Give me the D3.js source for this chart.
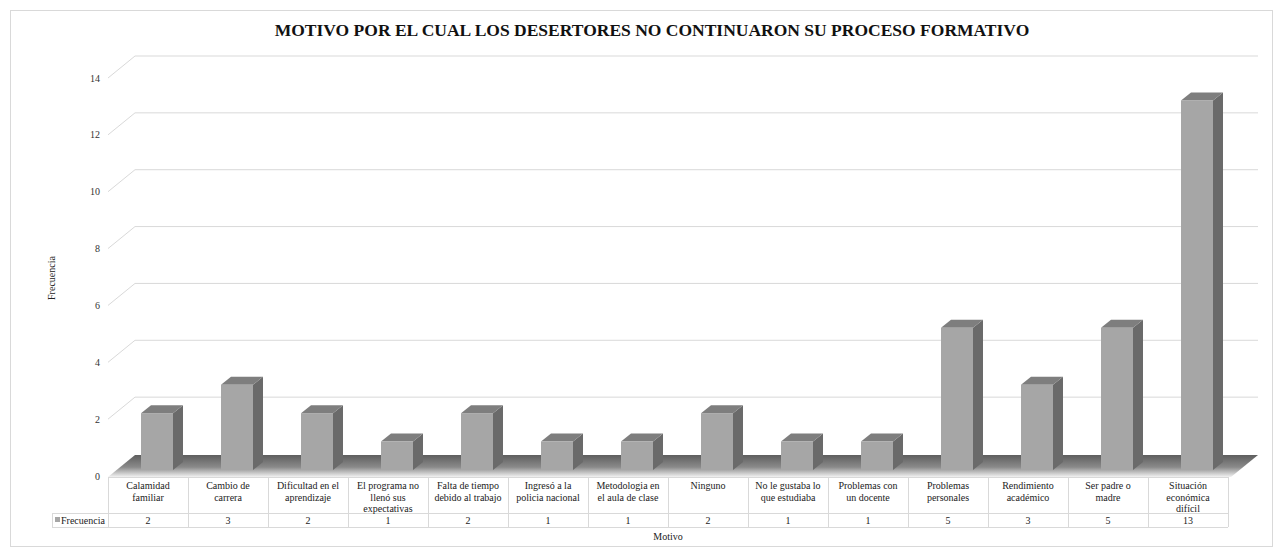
<!DOCTYPE html>
<html>
<head>
    <meta charset="utf-8" />
    <title>Motivo deserción</title>
    <script src="https://d3js.org/d3.v7.min.js"></script>
    <style>
        body { margin: 0; background: #fff; }
    </style>
</head>
<body>
<svg width="1283" height="550" font-family="'Liberation Serif', 'DejaVu Serif', serif"></svg>

<script>
    // Data
    var categories = [
        "Calamidad familiar", "Cambio de carrera", "Dificultad en el aprendizaje",
        "El programa no llenó sus expectativas", "Falta de tiempo debido al trabajo",
        "Ingresó a la policia nacional", "Metodologia en el aula de clase", "Ninguno",
        "No le gustaba lo que estudiaba", "Problemas con un docente", "Problemas personales",
        "Rendimiento académico", "Ser padre o madre", "Situación económica difícil"
    ];
    var categoryLines = [
        ["Calamidad", "familiar"], ["Cambio de", "carrera"], ["Dificultad en el", "aprendizaje"],
        ["El programa no", "llenó sus", "expectativas"], ["Falta de tiempo", "debido al trabajo"],
        ["Ingresó a la", "policia nacional"], ["Metodologia en", "el aula de clase"], ["Ninguno"],
        ["No le gustaba lo", "que estudiaba"], ["Problemas con", "un docente"], ["Problemas", "personales"],
        ["Rendimiento", "académico"], ["Ser padre o", "madre"], ["Situación", "económica", "difícil"]
    ];
    var values = [2, 3, 2, 1, 2, 1, 1, 2, 1, 1, 5, 3, 5, 13];
    var yTicks = [0, 2, 4, 6, 8, 10, 12, 14];

    var svg = d3.select("svg");

    // 3D depth of plot area and bars
    var depthX = 27, depthY = 22;
    var barDX = 9, barDY = 6, barDepthX = 10, barDepthY = 8;
    var plotLeft = 108, plotRight = 1228, plotBottom = 476, plotTop = 78;

    var x = d3.scaleBand().domain(categories).range([plotLeft, plotRight]).padding(0);
    var y = d3.scaleLinear().domain([0, 14]).range([plotBottom, plotTop]);
    var barW = x.bandwidth() * 0.4;

    // Outer border
    svg.append("rect")
        .attr("x", 10.5).attr("y", 10.5)
        .attr("width", 1262).attr("height", 536)
        .attr("fill", "none").attr("stroke", "#d9d9d9");

    // Title
    svg.append("text")
        .attr("x", 652).attr("y", 36)
        .attr("text-anchor", "middle")
        .attr("fill", "#111")
        .style("font-size", "17.5px").style("font-weight", "bold")
        .text("MOTIVO POR EL CUAL LOS DESERTORES NO CONTINUARON SU PROCESO FORMATIVO");

    // Gridlines (back wall + diagonal side wall)
    var grid = svg.append("g");
    yTicks.forEach(function (t) {
        if (t === 0) return;
        grid.append("path")
            .attr("d", "M" + plotLeft + "," + y(t) + "L" + (plotLeft + depthX) + "," + (y(t) - depthY) +
                "L" + (plotRight + depthX + 3) + "," + (y(t) - depthY))
            .attr("fill", "none").attr("stroke", "#d9d9d9").attr("stroke-width", 1);
    });

    // Floor with shadow gradient
    var defs = svg.append("defs");
    var grad = defs.append("linearGradient").attr("id", "floor")
        .attr("x1", 0).attr("y1", 0).attr("x2", 0).attr("y2", 1);
    grad.append("stop").attr("offset", "0%").attr("stop-color", "#5e5e5e");
    grad.append("stop").attr("offset", "55%").attr("stop-color", "#8a8a8a");
    grad.append("stop").attr("offset", "100%").attr("stop-color", "#f2f2f2");
    svg.append("path")
        .attr("d", "M" + plotLeft + "," + (y(0) + 1) + "L" + (plotRight + 3) + "," + (y(0) + 1) +
            "L" + (plotRight + depthX + 3) + "," + (y(0) - depthY + 1) +
            "L" + (plotLeft + depthX) + "," + (y(0) - depthY + 1) + "Z")
        .attr("fill", "url(#floor)");

    // Y tick labels
    svg.selectAll(".ytick")
        .data(yTicks)
        .enter()
        .append("text")
        .attr("class", "ytick")
        .attr("x", 100)
        .attr("y", function (d) { return y(d) + 3.5; })
        .attr("text-anchor", "end")
        .attr("fill", "#333")
        .style("font-size", "10px")
        .text(function (d) { return d; });

    // Bars
    var bars = svg.selectAll(".bar")
        .data(values)
        .enter()
        .append("g")
        .attr("class", "bar");

    function bx(d, i) { return x(categories[i]) + x.bandwidth() / 2 + barDX - barW / 2; }
    function by(v) { return y(v) - barDY; }

    // side face
    bars.append("path")
        .attr("d", function (d, i) {
            var x0 = bx(d, i) + barW, yb = by(0), yt = by(d);
            return "M" + x0 + "," + yt + "L" + (x0 + barDepthX) + "," + (yt - barDepthY) +
                "L" + (x0 + barDepthX) + "," + (yb - barDepthY) + "L" + x0 + "," + yb + "Z";
        })
        .attr("fill", "#6a6a6a");
    // top face
    bars.append("path")
        .attr("d", function (d, i) {
            var x0 = bx(d, i), yt = by(d);
            return "M" + x0 + "," + yt + "L" + (x0 + barDepthX) + "," + (yt - barDepthY) +
                "L" + (x0 + barW + barDepthX) + "," + (yt - barDepthY) + "L" + (x0 + barW) + "," + yt + "Z";
        })
        .attr("fill", "#7e7e7e");
    // front face
    bars.append("rect")
        .attr("x", bx)
        .attr("y", function (d) { return by(d); })
        .attr("width", barW)
        .attr("height", function (d) { return by(0) - by(d); })
        .attr("fill", "#a6a6a6");

    // Data table
    var tableTop = plotBottom + 1, rowSplit = 513, tableBottom = 527;
    var table = svg.append("g").attr("stroke", "#d9d9d9").attr("fill", "none");
    table.append("line").attr("x1", plotLeft).attr("x2", plotRight).attr("y1", tableTop + 0.5).attr("y2", tableTop + 0.5);
    table.append("line").attr("x1", 52).attr("x2", plotRight).attr("y1", rowSplit + 0.5).attr("y2", rowSplit + 0.5);
    table.append("line").attr("x1", 52).attr("x2", plotRight).attr("y1", tableBottom + 0.5).attr("y2", tableBottom + 0.5);
    table.append("line").attr("x1", 52.5).attr("x2", 52.5).attr("y1", rowSplit).attr("y2", tableBottom);
    categories.forEach(function (c) {
        var xx = Math.round(x(c)) + 0.5;
        table.append("line").attr("x1", xx).attr("x2", xx).attr("y1", tableTop).attr("y2", tableBottom);
    });
    table.append("line").attr("x1", plotRight + 0.5).attr("x2", plotRight + 0.5).attr("y1", tableTop).attr("y2", tableBottom);

    // Category labels
    svg.selectAll(".cat")
        .data(categoryLines)
        .enter()
        .append("text")
        .attr("class", "cat")
        .attr("text-anchor", "middle")
        .attr("fill", "#222")
        .style("font-size", "10px")
        .each(function (lines, i) {
            var t = d3.select(this);
            lines.forEach(function (l, j) {
                t.append("tspan")
                    .attr("x", x(categories[i]) + x.bandwidth() / 2)
                    .attr("y", 489 + j * 11.5)
                    .text(l);
            });
        });

    // Values row
    svg.selectAll(".val")
        .data(values)
        .enter()
        .append("text")
        .attr("class", "val")
        .attr("text-anchor", "middle")
        .attr("fill", "#222")
        .attr("x", function (d, i) { return x(categories[i]) + x.bandwidth() / 2; })
        .attr("y", 524)
        .style("font-size", "10px")
        .text(function (d) { return d; });

    // Legend key in table
    svg.append("rect").attr("x", 55).attr("y", 517).attr("width", 5).attr("height", 5).attr("fill", "#a6a6a6");
    svg.append("text").attr("x", 61).attr("y", 524).attr("fill", "#222").style("font-size", "10px").text("Frecuencia");

    // Axis titles
    svg.append("text")
        .attr("x", 668).attr("y", 540)
        .attr("text-anchor", "middle")
        .attr("fill", "#222")
        .style("font-size", "10px")
        .text("Motivo");
    svg.append("text")
        .attr("transform", "translate(55,278) rotate(-90)")
        .attr("text-anchor", "middle")
        .attr("fill", "#222")
        .style("font-size", "10px")
        .text("Frecuencia");
</script>
</body>
</html>
